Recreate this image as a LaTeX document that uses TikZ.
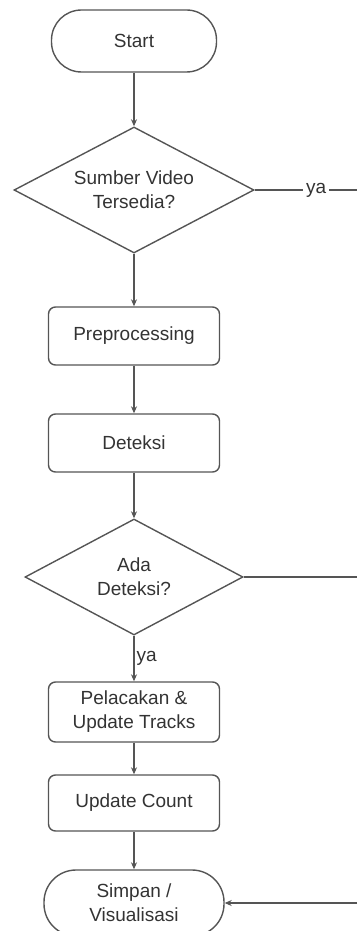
\documentclass[tikz,border=0pt]{standalone}
\usepackage{fontspec}
\setmainfont{Liberation Sans}
\usetikzlibrary{shapes.geometric, arrows.meta}
\definecolor{linegray}{HTML}{555555}
\definecolor{textgray}{HTML}{333333}

\begin{document}
\begin{tikzpicture}[x=1pt, y=-1pt, >={Stealth[length=7pt, width=6pt]},
    every node/.style={font=\fontsize{19}{24}\selectfont, text=textgray, align=center},
    terminal/.style={draw=linegray, line width=1.4pt, rounded corners=30pt, minimum width=165pt, minimum height=62pt},
    process/.style={draw=linegray, line width=1.4pt, rounded corners=7pt, minimum width=171pt, minimum height=58pt},
    decision/.style={draw=linegray, line width=1.4pt, diamond, aspect=1.9, inner sep=0pt},
    flow/.style={draw=linegray, line width=1.4pt}]
    \useasboundingbox (0,0) rectangle (357,931);

    % Nodes
    \node[terminal] (start) at (134, 41) {Start};
    \node[decision, minimum width=240pt, minimum height=126pt] (source) at (134, 190) {Sumber Video\\Tersedia?};
    \node[process] (prep) at (134, 336) {Preprocessing};
    \node[process] (detect) at (134, 443) {Deteksi};
    \node[decision, minimum width=218pt, minimum height=116pt] (found) at (134, 577) {Ada\\Deteksi?};
    \node[process, minimum height=60pt] (track) at (134, 712) {Pelacakan \&\\Update Tracks};
    \node[process, minimum height=56pt] (count) at (134, 803) {Update Count};
    \node[terminal, minimum width=180pt, minimum height=66pt, rounded corners=32pt] (save) at (134, 903) {Simpan /\\Visualisasi};

    % Right side ends
    \coordinate (r1) at (357, 190);
    \coordinate (r2) at (357, 577);
    \coordinate (r3) at (357, 903);

    % Edges
    \draw[flow, ->] (start) -- (source);
    \draw[flow, ->] (source) -- (prep);
    \draw[flow, ->] (prep) -- (detect);
    \draw[flow, ->] (detect) -- (found);
    \draw[flow, ->] (found) -- (track) node[midway, right, inner sep=2pt] {ya};
    \draw[flow, ->] (track) -- (count);
    \draw[flow, ->] (count) -- (save);
    \draw[flow] (source.east) -- (r1) node[pos=0.6, fill=white, inner sep=3pt] {ya};
    \draw[flow] (found.east) -- (r2);
    \draw[flow, ->] (r3) -- (save.east);
\end{tikzpicture}
\end{document}
